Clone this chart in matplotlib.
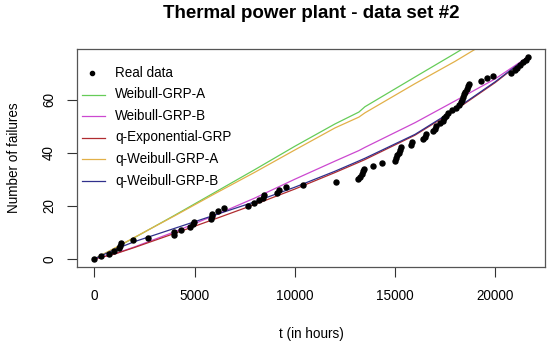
import matplotlib
matplotlib.use("Agg")
import matplotlib.pyplot as plt
from matplotlib.lines import Line2D

plt.rcParams['font.family'] = ['Liberation Sans', 'DejaVu Sans']

title = "Thermal power plant - data set #2"
xlabel = "t (in hours)"
ylabel = "Number of failures"

# Real data: failure times and cumulative counts
t_real = [0, 333, 750, 967, 1217, 1280, 1333, 1917, 2667, 3967, 3990, 4333, 4783,
          4900, 4950, 5833, 5850, 5870, 6167, 6467, 7667, 7967, 8200, 8420, 8480,
          9117, 9200, 9550, 10400, 12050, 13171, 13255, 13339, 13400, 13456, 13909,
          14329, 15017, 15060, 15101, 15180, 15240, 15302, 15800, 15856, 16400,
          16494, 16561, 16900, 16980, 17064, 17250, 17400, 17450, 17550, 17651,
          17869, 18050, 18205, 18270, 18320, 18373, 18440, 18490, 18580, 18658,
          18700, 19296, 19581, 19866, 20789, 21007, 21100, 21259, 21400, 21550, 21620]
n_real = [0, 1, 2, 3, 4, 5, 6, 7, 8, 9, 10, 11, 12, 13, 14, 15, 16, 17, 18, 19, 20,
          21, 22, 23, 24, 25, 26, 27, 28, 29, 30, 31, 32, 33, 34, 35, 36, 37, 38, 39,
          40, 41, 42, 43, 44, 45, 46, 47, 48, 49, 50, 51, 52, 53, 54, 55, 56, 57, 58,
          59, 60, 61, 62, 63, 64, 65, 66, 67, 68, 69, 70, 71, 72, 73, 74, 75, 76]

# Model curves
t_grid = [0, 1000, 2000, 4000, 6000, 8000, 10000, 12000, 13200, 13500, 16000,
          18000, 20000, 21620]
weibull_a = [0, 3.9, 8.0, 16.4, 25.0, 33.6, 42.4, 50.8, 55.3, 57.3, 68.5, 77.4,
             86.5, 93.5]
weibull_b = [0, 1.9, 4.5, 10.2, 16.4, 22.9, 30.0, 36.8, 40.8, 42.0, 51.3, 59.5,
             67.8, 76.0]
q_exp = [0, 1.8, 4.3, 9.6, 15.0, 20.5, 26.3, 32.5, 36.4, 37.4, 46.6, 56.0,
         66.4, 76.0]
q_weibull_a = [0, 4.0, 8.1, 16.2, 24.5, 32.6, 41.0, 49.3, 53.4, 55.0, 66.0, 74.4,
               83.5, 90.5]
q_weibull_b = [0, 3.5, 6.5, 11.5, 16.5, 21.5, 27.0, 33.0, 36.9, 37.9, 46.9, 56.3,
               66.7, 76.0]

series = [
    ("Weibull-GRP-A", weibull_a, "#66cc58"),
    ("Weibull-GRP-B", weibull_b, "#cc48d0"),
    ("q-Exponential-GRP", q_exp, "#b02c30"),
    ("q-Weibull-GRP-A", q_weibull_a, "#e2b048"),
    ("q-Weibull-GRP-B", q_weibull_b, "#30308c"),
]

W, H = 550, 346
fs = 9.75

fig = plt.figure(figsize=(5.5, 3.46), dpi=100)
ax = fig.add_axes([77/W, 1-267/H, (545-77)/W, (267-49)/H])

ax.plot(t_real, n_real, 'o', color='black', markersize=3.6, zorder=3)
for name, vals, col in series:
    ax.plot(t_grid, vals, '-', color=col, lw=0.9, zorder=2)

ax.set_xlim(-864, 22484)
ax.set_ylim(-3.04, 79.04)
ax.set_xticks([0, 5000, 10000, 15000, 20000])
ax.set_yticks([0, 20, 40, 60])
ax.tick_params(axis='both', direction='out', length=7, width=0.8, color='#333333',
               labelsize=fs)
ax.tick_params(axis='x', pad=9)
ax.tick_params(axis='y', pad=8)
for lab in ax.get_yticklabels():
    lab.set_rotation(90)
    lab.set_va('center')
for s in ax.spines.values():
    s.set_color('#555555')
    s.set_linewidth(0.9)

fig.text(311/W, 1-334/H, xlabel, ha='center', va='center', fontsize=fs)
fig.text(14/W, 1-158/H, ylabel, ha='center', va='center', fontsize=fs,
         rotation=90)
fig.text(311/W, 1-14/H, title, ha='center', va='center', fontsize=13.5,
         fontweight='bold')

# legend (no box), drawn in figure pixel positions
rows = [73, 94.5, 116, 137.5, 159, 180.5]
tf = fig.transFigure
fig.add_artist(Line2D([92/W], [1-rows[0]/H], marker='o', color='black',
                      markersize=3.0, linestyle='none', transform=tf))
fig.text(115/W, 1-rows[0]/H, "Real data", ha='left', va='center', fontsize=fs)
for (name, vals, col), y in zip(series, rows[1:]):
    fig.add_artist(Line2D([82/W, 105/W], [1-y/H, 1-y/H], color=col, lw=0.9,
                          transform=tf))
    fig.text(115/W, 1-y/H, name, ha='left', va='center', fontsize=fs)

fig.savefig("out.png", dpi=100)
